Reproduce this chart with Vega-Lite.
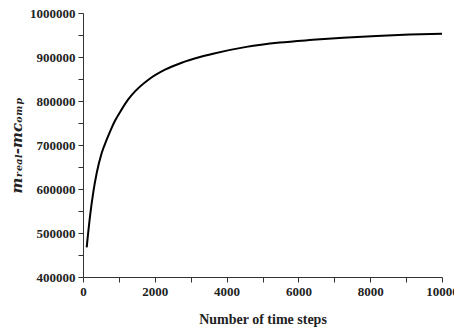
{
  "$schema": "https://vega.github.io/schema/vega-lite/v6.json",
  "autosize": {"type": "none"},
  "padding": {"left": 83, "top": 13, "right": 12, "bottom": 53},
  "width": 359,
  "height": 264,
  "background": "white",
  "config": {
    "view": {"stroke": null},
    "axis": {
      "grid": false,
      "domainColor": "#333333",
      "domainWidth": 1,
      "tickColor": "#333333",
      "tickSize": 5,
      "labelFont": "Liberation Serif",
      "labelFontWeight": "bold",
      "labelFontSize": 13,
      "labelColor": "#222222",
      "titleFont": "Liberation Serif",
      "titleFontWeight": "bold",
      "titleFontSize": 14,
      "titleColor": "#222222"
    }
  },
  "data": {
    "values": [
      {"t": 103, "m": 467300},
      {"t": 195, "m": 537700},
      {"t": 290, "m": 594600},
      {"t": 382, "m": 636400},
      {"t": 521, "m": 681800},
      {"t": 660, "m": 712000},
      {"t": 780, "m": 735700},
      {"t": 891, "m": 755000},
      {"t": 1078, "m": 781000},
      {"t": 1254, "m": 803000},
      {"t": 1449, "m": 821800},
      {"t": 1822, "m": 848400},
      {"t": 2284, "m": 871200},
      {"t": 2749, "m": 887000},
      {"t": 3259, "m": 900000},
      {"t": 3621, "m": 907500},
      {"t": 4552, "m": 923000},
      {"t": 5479, "m": 932800},
      {"t": 6400, "m": 939000},
      {"t": 7243, "m": 943900},
      {"t": 8173, "m": 948000},
      {"t": 9100, "m": 950900},
      {"t": 10000, "m": 953000}
    ]
  },
  "mark": {"type": "line", "color": "black", "strokeWidth": 2, "interpolate": "monotone"},
  "encoding": {
    "x": {
      "field": "t",
      "type": "quantitative",
      "scale": {"domain": [0, 10000], "nice": false},
      "axis": {
        "title": "Number of time steps",
        "values": [0, 1000, 2000, 3000, 4000, 5000, 6000, 7000, 8000, 9000, 10000],
        "labelExpr": "datum.value % 2000 === 0 ? datum.value : ''",
        "format": "d",
        "labelPadding": 3,
        "titlePadding": 14,
        "labelFlush": false,
        "labelOverlap": false
      }
    },
    "y": {
      "field": "m",
      "type": "quantitative",
      "scale": {"domain": [400000, 1000000], "nice": false, "zero": false},
      "axis": {
        "title": "mᵣₑₐₗ-mᴄₒₘₚ",
        "titleFont": "DejaVu Serif",
        "titleFontStyle": "italic",
        "titleFontSize": 15,
        "values": [400000, 450000, 500000, 550000, 600000, 650000, 700000, 750000, 800000, 850000, 900000, 950000, 1000000],
        "labelExpr": "datum.value % 100000 === 0 ? datum.value : ''",
        "format": "d",
        "labelPadding": 3,
        "titlePadding": 5,
        "labelOverlap": false,
        "labelFlush": false
      }
    }
  }
}
